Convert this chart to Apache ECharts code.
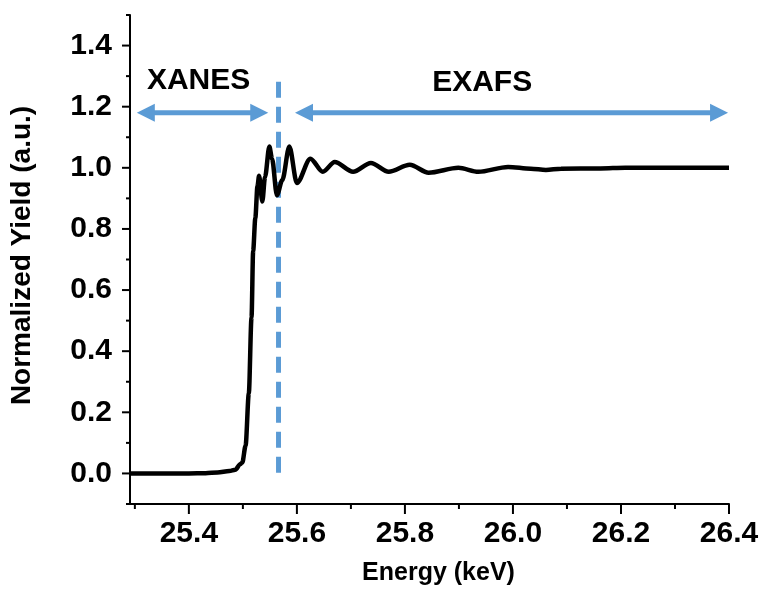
<!DOCTYPE html>
<html>
<head>
<meta charset="utf-8">
<script src="https://cdn.jsdelivr.net/npm/echarts@6/dist/echarts.min.js"></script>
<style>
  html, body { margin: 0; padding: 0; background: #fff; }
  #chart { width: 763px; height: 591px; }
</style>
</head>
<body>
<div id="chart"></div>
<script>
// spectrum
var energy = [25.29, 25.35, 25.40, 25.431, 25.453, 25.475, 25.486, 25.495, 25.499, 25.505,
  25.511, 25.516, 25.519, 25.523, 25.527, 25.530, 25.536, 25.541, 25.549, 25.554,
  25.563, 25.573, 25.586, 25.600, 25.625, 25.648, 25.670, 25.704, 25.737, 25.770,
  25.809, 25.844, 25.899, 25.936, 25.991, 26.033, 26.061, 26.089, 26.162, 26.208, 26.40];
var yieldVals = [0.0, 0.0, 0.0, 0.001, 0.003, 0.008, 0.012, 0.03, 0.036, 0.091,
  0.262, 0.511, 0.728, 0.835, 0.94, 0.974, 0.89, 0.97, 1.07, 1.03,
  0.91, 0.96, 1.07, 0.95, 1.03, 0.987, 1.019, 0.987, 1.016, 0.987,
  1.01, 0.984, 1.0, 0.987, 1.003, 0.997, 0.993, 0.997, 0.998, 1.0, 1.0];

var xMajor = [25.4, 25.6, 25.8, 26.0, 26.2, 26.4];
var xMinor = [25.3, 25.5, 25.7, 25.9, 26.1, 26.3];
var yMajor = [0.0, 0.2, 0.4, 0.6, 0.8, 1.0, 1.2, 1.4];
var yMinor = [-0.1, 0.1, 0.3, 0.5, 0.7, 0.9, 1.1, 1.3, 1.5];

// annotations (data space)
var edgeE = 25.566;
var edgeSpan = [1.282, -0.023];
var arrowY = 1.18;
var xanesArrow = [25.3203, 25.5303];
var exafsArrow = [25.6132, 26.3816];
var regionLabels = [[25.418, 1.285, 'XANES'], [25.943, 1.28, 'EXAFS']];

var BLUE = '#5b9bd5';
var FONT = '"Liberation Sans", Arial, sans-serif';
var X_RANGE = [25.291, 26.4];
var Y_RANGE = [-0.1, 1.5];

var chart = echarts.init(document.getElementById('chart'));

function arrowSeries(ends) {
  return {
    type: 'line',
    data: [
      { value: [ends[0], arrowY], symbolRotate: 90 },
      { value: [ends[1], arrowY], symbolRotate: -90 }
    ],
    symbol: 'triangle',
    symbolSize: [18, 18],
    showSymbol: true,
    itemStyle: { color: BLUE },
    lineStyle: { color: BLUE, width: 5 },
    silent: true,
    z: 3
  };
}

// ticks drawn outside the grid, placed through the axes' scales
// item: [value, length, dir]  dir 0 = x axis, 1 = y axis
var tickData = []
  .concat(xMajor.map(function (v) { return [v, 10, 0]; }))
  .concat(xMinor.map(function (v) { return [v, 5, 0]; }))
  .concat(yMajor.map(function (v) { return [v, 8, 1]; }))
  .concat(yMinor.map(function (v) { return [v, 4, 1]; }));

function renderTick(params, api) {
  var v = api.value(0), len = api.value(1), dir = api.value(2);
  var p, shape;
  if (dir === 0) {
    p = api.coord([v, Y_RANGE[0]]);
    shape = { x1: p[0], y1: p[1], x2: p[0], y2: p[1] + len };
  } else {
    p = api.coord([X_RANGE[0], v]);
    shape = { x1: p[0], y1: p[1], x2: p[0] - len, y2: p[1] };
  }
  return { type: 'line', shape: shape, style: { stroke: '#000', lineWidth: 2 } };
}

var option = {
  backgroundColor: '#fff',
  animation: false,
  grid: { left: 127, right: 34, top: 15, bottom: 83 },
  xAxis: {
    type: 'value',
    min: X_RANGE[0], max: X_RANGE[1],
    splitLine: { show: false },
    axisLine: { show: true, onZero: false, lineStyle: { color: '#000', width: 2 } },
    axisTick: { show: false },
    name: 'Energy (keV)',
    nameLocation: 'middle',
    nameGap: 57,
    nameTextStyle: { fontFamily: FONT, fontWeight: 'bold', fontSize: 25, color: '#000', padding: [0, 0, 0, 18] },
    axisLabel: {
      customValues: xMajor, margin: 15,
      fontFamily: FONT, fontWeight: 'bold', fontSize: 30, color: '#000',
      formatter: function (v) { return v.toFixed(1); }
    }
  },
  yAxis: {
    type: 'value',
    min: Y_RANGE[0], max: Y_RANGE[1],
    splitLine: { show: false },
    axisLine: { show: true, onZero: false, lineStyle: { color: '#000', width: 2 } },
    axisTick: { show: false },
    name: 'Normalized Yield (a.u.)',
    nameLocation: 'middle',
    nameGap: 94,
    nameTextStyle: { fontFamily: FONT, fontWeight: 'bold', fontSize: 28, color: '#000', padding: [0, 0, 0, 8] },
    axisLabel: {
      customValues: yMajor, margin: 18,
      fontFamily: FONT, fontWeight: 'bold', fontSize: 30, color: '#000',
      formatter: function (v) { return v.toFixed(1); }
    }
  },
  series: [
    {
      name: 'yield',
      type: 'line',
      data: energy.map(function (e, i) { return [e, yieldVals[i]]; }),
      smooth: 0.3,
      smoothMonotone: 'x',
      showSymbol: false,
      lineStyle: { color: '#000', width: 4.5 },
      z: 4
    },
    {
      type: 'line',
      data: [[edgeE, edgeSpan[0]], [edgeE, edgeSpan[1]]],
      showSymbol: false,
      lineStyle: { color: BLUE, width: 5, type: [16, 9] },
      silent: true,
      z: 3
    },
    arrowSeries(xanesArrow),
    arrowSeries(exafsArrow),
    {
      type: 'scatter',
      data: regionLabels,
      symbolSize: 0,
      silent: true,
      itemStyle: { opacity: 1 },
      label: {
        show: true,
        position: 'inside',
        formatter: function (p) { return p.value[2]; },
        fontFamily: FONT, fontWeight: 'bold', fontSize: 30,
        color: '#000', opacity: 1, textBorderWidth: 0
      }
    },
    {
      type: 'custom',
      data: tickData,
      renderItem: renderTick,
      clip: false,
      silent: true,
      z: 5
    }
  ]
};

chart.setOption(option);
</script>
</body>
</html>
